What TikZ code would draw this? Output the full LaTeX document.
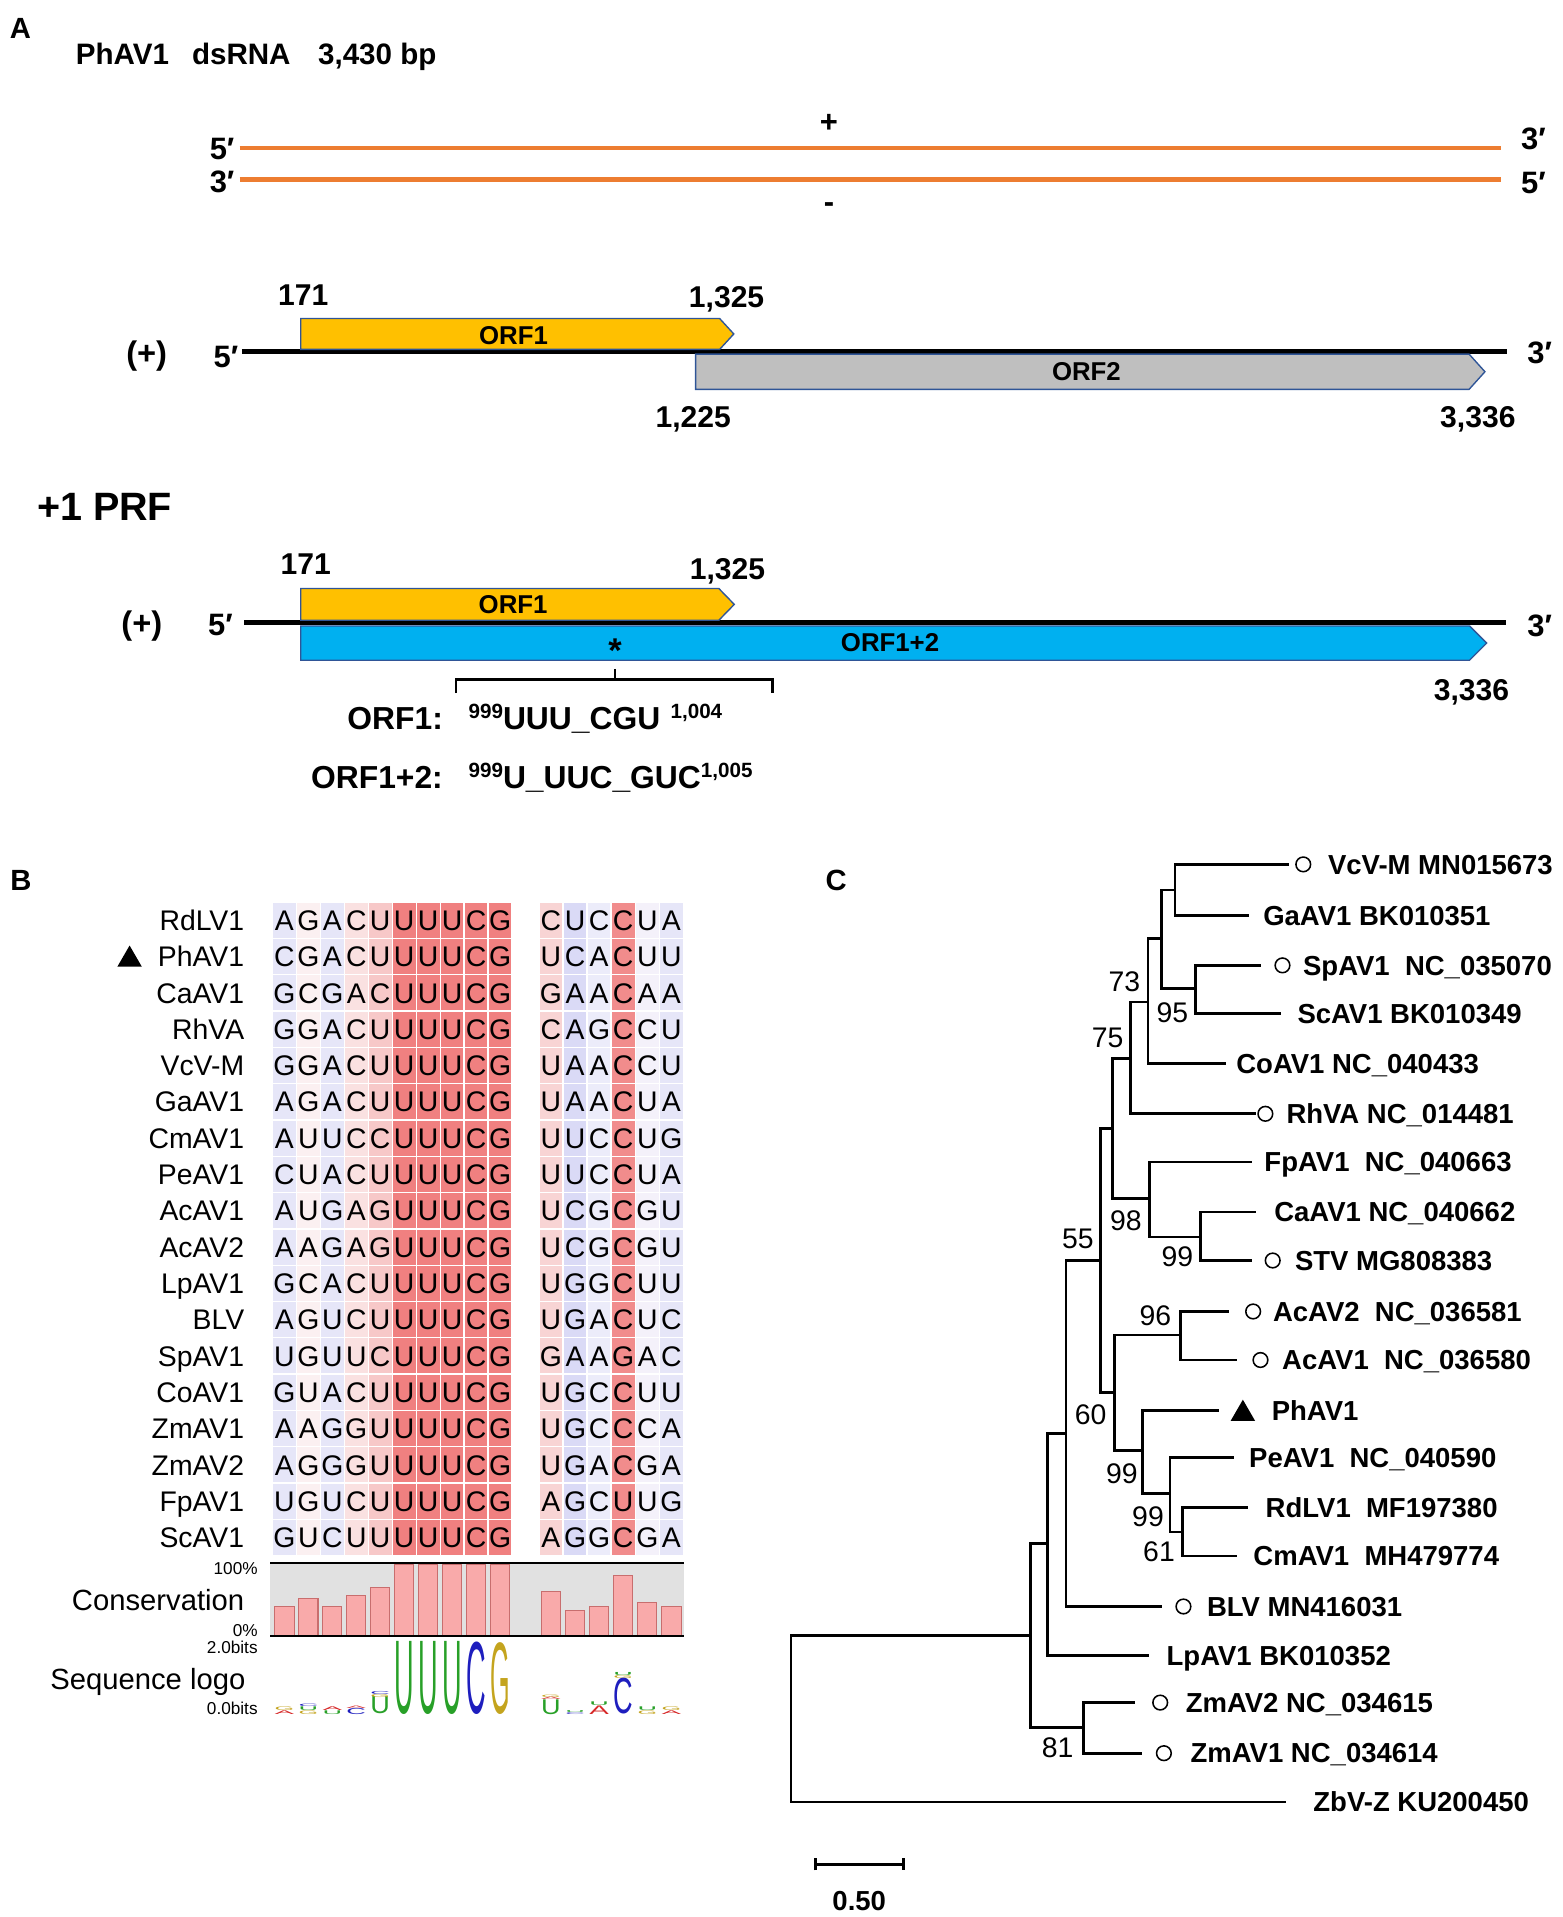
\documentclass[tikz,border=0pt]{standalone}
\usepackage{fontspec}
\setmainfont{Liberation Sans}
\usepackage{graphicx}
\usepackage{xstring}
\usetikzlibrary{shapes.geometric,arrows.meta}

\definecolor{strandorange}{RGB}{237,125,49}
\definecolor{orfyellow}{RGB}{255,192,0}
\definecolor{orfgray}{RGB}{191,191,191}
\definecolor{orfblue}{RGB}{0,176,240}
\definecolor{orfedge}{RGB}{47,85,151}
\definecolor{consR}{RGB}{240,128,128}
\definecolor{consR2}{RGB}{241,140,140}
\definecolor{consP}{RGB}{247,200,200}
\definecolor{consP2}{RGB}{248,212,212}
\definecolor{consP1}{RGB}{250,225,225}
\definecolor{consW}{RGB}{251,240,241}
\definecolor{consW2}{RGB}{244,241,250}
\definecolor{consB}{RGB}{230,230,248}
\definecolor{consB1}{RGB}{236,236,250}
\definecolor{consB2}{RGB}{218,218,246}
\definecolor{consbg}{RGB}{225,225,225}
\definecolor{barfill}{RGB}{249,170,170}
\definecolor{baredge}{RGB}{200,110,110}
\definecolor{logoA}{RGB}{214,40,40}
\definecolor{logoC}{RGB}{30,30,190}
\definecolor{logoG}{RGB}{196,164,30}
\definecolor{logoU}{RGB}{40,160,40}

\newcommand\fs[1]{\fontsize{#1}{#1}\selectfont}
\newcommand\supnum[1]{{\fs{12}\raisebox{6.5pt}{#1}}}
\newcommand\colx[1]{(#1<11 ? 232.6+19.6*(#1-1) : 450.65+19.7*(#1-11))}
\newcommand\orfbox[6]{%
  \filldraw [orf, fill=#6] (#1,#4) -- (#2,#4) -- (#3,{(#4+#5)/2}) -- (#2,#5) -- (#1,#5) -- cycle;}

\tikzset{%
  txt/.style={inner sep=0},
  panel/.style={txt, font=\fs{17}\bfseries, anchor=base},
  title/.style={txt, font=\fs{17.2}\bfseries, anchor=base west},
  strand end/.style={txt, font=\fs{18}\bfseries},
  numlbl/.style={txt, font=\fs{17.5}\bfseries, anchor=base},
  orf label/.style={txt, font=\fs{15}\bfseries, anchor=base},
  frame seq/.style={txt, font=\fs{18.5}\bfseries},
  strand/.style={line width=2.5pt, draw=strandorange},
  genome/.style={line width=2.9pt},
  orf/.style={draw=orfedge, line width=0.8pt},
  seq name/.style={txt, font=\fs{16.5}, anchor=base east},
  nt/.style={txt, font=\fs{16.5}, anchor=base},
  axis label/.style={txt, font=\fs{10}, anchor=base east},
  track/.style={txt, font=\fs{17}, anchor=base east},
  bar/.style={fill=barfill, draw=baredge, line width=0.6pt},
  taxon/.style={txt, font=\fs{16}\bfseries, anchor=base west},
  boot/.style={txt, font=\fs{16.5}, anchor=base},
  branch/.style={line width=1.6pt, line cap=rect},
  open mark/.style={circle, draw, line width=0.9pt, minimum size=0.3cm, inner sep=0},
  tri mark/.style={regular polygon, regular polygon sides=3, fill=black, minimum size=0.577cm, inner sep=0},
}

\begin{document}
\begin{tikzpicture}[x=0.025cm, y=-0.025cm, line join=miter]
  \useasboundingbox (0,0) rectangle (1278,1568);

  % panel A: dsRNA
  \node [panel] (lbl-A) at (16.7,31.6) {A};
  \node [title] (title) at (61.8,53.1) {PhAV1\hspace{13.4pt}dsRNA\hspace{16pt}3,430 bp};

  \coordinate (plus-l) at (196,120.8);
  \coordinate (plus-r) at (1228,120.8);
  \coordinate (minus-l) at (196,146.7);
  \coordinate (minus-r) at (1228,146.7);
  \draw [strand] (plus-l) -- (plus-r);
  \draw [strand] (minus-l) -- (minus-r);
  \node [strand end, anchor=base east] (end-p5) at (192,130.4) {5′};
  \node [strand end, anchor=base east] (end-m3) at (192,157.6) {3′};
  \node [strand end, anchor=base west] (end-p3) at (1244,122) {3′};
  \node [strand end, anchor=base west] (end-m5) at (1244,158) {5′};
  \node [txt, font=\fs{18}\bfseries] (sign-p) at (678,101) {+};
  \node [txt, font=\fs{18}\bfseries] (sign-m) at (678,170) {-};

  % ORF map
  \coordinate (gen1-l) at (197.8,287.5);
  \coordinate (gen1-r) at (1232.5,287.5);
  \draw [genome] (gen1-l) -- (gen1-r);
  \orfbox{246}{588.6}{600.2}{260.5}{285.8}{orfyellow}
  \orfbox{569}{1201.6}{1214.6}{289.6}{318.5}{orfgray}
  \node [orf label] (orf1-a) at (420,281.5) {ORF1};
  \node [orf label] (orf2-a) at (888.6,311.5) {ORF2};
  \node [numlbl] (pos-171a) at (248,250.2) {171};
  \node [numlbl] (pos-1325a) at (594.3,251.5) {1,325};
  \node [numlbl] (pos-1225) at (567,349.8) {1,225};
  \node [numlbl] (pos-3336a) at (1208.8,349.8) {3,336};
  \node [txt, font=\fs{19}\bfseries, anchor=base] (sense-a) at (120,298) {(+)};
  \node [strand end, anchor=base west] (end-a5) at (174.5,300.8) {5′};
  \node [strand end, anchor=base west] (end-a3) at (1249,297) {3′};

  % +1 PRF
  \node [txt, font=\fs{23}\bfseries, anchor=base west] (prf) at (30,425.6) {+1 PRF};
  \coordinate (gen2-l) at (199.7,509.2);
  \coordinate (gen2-r) at (1232,509.2);
  \draw [genome] (gen2-l) -- (gen2-r);
  \orfbox{246}{588}{600.6}{481.4}{507.3}{orfyellow}
  \orfbox{246}{1202}{1216}{512}{540}{orfblue}
  \node [orf label] (orf1-b) at (419.7,501.7) {ORF1};
  \node [orf label] (orf12-b) at (728,533.2) {ORF1+2};
  \node [txt, font=\fs{20}\bfseries, anchor=base] (shift) at (503,542) {*};
  \node [numlbl] (pos-171b) at (250,469.8) {171};
  \node [numlbl] (pos-1325b) at (595,473.8) {1,325};
  \node [numlbl] (pos-3336b) at (1203.6,572.8) {3,336};
  \node [txt, font=\fs{19}\bfseries, anchor=base] (sense-b) at (116,519) {(+)};
  \node [strand end, anchor=base west] (end-b5) at (170,519.5) {5′};
  \node [strand end, anchor=base west] (end-b3) at (1249,520.5) {3′};

  \coordinate (brk-l) at (373,567);
  \coordinate (brk-r) at (632,567);
  \coordinate (brk-t) at (503,547);
  \draw [line width=1.5pt] (brk-l) -- ++(0,-11) -| (brk-r);
  \draw [line width=1pt] (brk-t) -- ++(0,9);

  \node [frame seq, anchor=base east] (frame1) at (362.5,596.5) {ORF1:};
  \node [frame seq, anchor=base west] (codon1) at (383,596.5)
    {\supnum{999}UUU\_CGU\hspace{6pt}\supnum{1,004}};
  \node [frame seq, anchor=base east] (frame12) at (362.5,645) {ORF1+2:};
  \node [frame seq, anchor=base west] (codon12) at (383,645)
    {\supnum{999}U\_UUC\_GUC\supnum{1,005}};

  % panel B: alignment
  \node [panel] (lbl-B) at (17.2,728.6) {B};

  \foreach \c/\col in {1/consB,2/consW,3/consB,4/consP1,5/consP,6/consR,7/consR,8/consR,
                       9/consR,10/consR,11/consP2,12/consB2,13/consB1,14/consR2,15/consW2,16/consB}{
    \pgfmathsetmacro\cx{\colx{\c}}
    \foreach \r in {1,...,18}{
      \pgfmathsetmacro\ry{752.7+29.7*(\r-1)}
      \fill [\col] (\cx-9.3,\ry-14.3) rectangle (\cx+9.3,\ry+14.3);
    }
  }

  \foreach \tax/\sq [count=\r] in {RdLV1/AGACUUUUCGCUCCUA, PhAV1/CGACUUUUCGUCACUU,
      CaAV1/GCGACUUUCGGAACAA, RhVA/GGACUUUUCGCAGCCU, VcV-M/GGACUUUUCGUAACCU,
      GaAV1/AGACUUUUCGUAACUA, CmAV1/AUUCCUUUCGUUCCUG, PeAV1/CUACUUUUCGUUCCUA,
      AcAV1/AUGAGUUUCGUCGCGU, AcAV2/AAGAGUUUCGUCGCGU, LpAV1/GCACUUUUCGUGGCUU,
      BLV/AGUCUUUUCGUGACUC, SpAV1/UGUUCUUUCGGAAGAC, CoAV1/GUACUUUUCGUGCCUU,
      ZmAV1/AAGGUUUUCGUGCCCA, ZmAV2/AGGGUUUUCGUGACGA, FpAV1/UGUCUUUUCGAGCUUG,
      ScAV1/GUCUUUUUCGAGGCGA}{
    \pgfmathsetmacro\ry{752.7+29.7*(\r-1)}
    \node [seq name] (name-\r) at (200,\ry+8.3) {\tax};
    \foreach \c in {1,...,16}{
      \pgfmathsetmacro\cx{\colx{\c}}
      \StrChar{\sq}{\c}[\ch]
      \node [nt] (seq-\r-\c) at (\cx,\ry+8.3) {\ch};
    }
  }
  \node [tri mark] (mark-B) at (106,784.9) {};

  % conservation
  \fill [consbg] (221,1278.3) rectangle (559.5,1338.3);
  \foreach \c/\h in {1/0.41,2/0.52,3/0.41,4/0.57,5/0.68,6/1,7/1,8/1,9/1,10/1,
                     11/0.62,12/0.36,13/0.41,14/0.84,15/0.47,16/0.41}{
    \pgfmathsetmacro\cx{\colx{\c}}
    \filldraw [bar] (\cx-7.9,1338.3) rectangle (\cx+7.9,1338.3-59*\h);
  }
  \draw [line width=1.5pt] (221,1278.3) -- (559.5,1278.3);
  \draw [line width=1.5pt] (221,1338.3) -- (559.5,1338.3);
  \node [axis label] (ax-100) at (211,1288) {100\%};
  \node [axis label] (ax-0) at (211,1338.6) {0\%};
  \node [track] (track-cons) at (200,1317.5) {Conservation};

  % sequence logo
  \node [axis label] (ax-2bits) at (211,1352.3) {2.0bits};
  \node [axis label] (ax-0bits) at (211,1402.7) {0.0bits};
  \node [track] (track-logo) at (201,1381.7) {Sequence logo};
  \foreach \c/\l/\b/\h [count=\i] in {1/A/0/3, 1/G/3/3, 2/G/0/3, 2/U/3/3, 2/C/6/2,
      3/U/0/3, 3/A/3/3, 4/C/0/5, 4/A/5/2, 5/U/0/14, 5/G/14/2.5, 5/C/16.5/2.5,
      6/U/0/59, 7/U/0/59, 8/U/0/59, 9/C/0/58.5, 10/G/0/58,
      11/U/0/12, 11/A/12/2, 11/G/14/2, 12/C/0/1.5, 12/U/1.5/1.5, 13/A/0/7, 13/U/7/3,
      14/C/0/29, 14/G/29/2.5, 14/U/31.5/2.5, 15/G/0/3, 15/U/3/3, 16/A/0/3, 16/G/3/3}{
    \pgfmathsetmacro\cx{\colx{\c}}
    \pgfmathsetmacro\lh{\h*0.025}
    \node [txt, anchor=south, text=logo\l] (logo-\i) at (\cx,1402.4-\b)
      {\resizebox{0.4cm}{\lh cm}{\l}};
  }

  % panel C: tree
  \node [panel] (lbl-C) at (684,728.1) {C};

  \foreach \n/\x/\y in {root/647/1338, a/843/1338, b/857/1262.6, c/872/1172.6,
      d/900/1031, e/910/923, f/924.6/866, g/939/819.6, h/950/767.7, i/961/728,
      j/977.7/808.7, k/940/980.5, l/982/1011.8, m/911.5/1139, n/965.4/1092,
      o/934.8/1186.5, p/957/1221.8, q/967.5/1253, zm/886/1413}
    \coordinate (clade-\n) at (\x,\y);

  \foreach \n/\x/\y/\tx/\txt in {
      vcvm/1053/707/1086/{VcV-M MN015673},
      gaav1/1020.7/748.6/1033/{GaAV1 BK010351},
      spav1/1030/789.6/1065.6/{SpAV1\ \ NC\_035070},
      scav1/1047/829/1061/{ScAV1 BK010349},
      coav1/1001.5/870/1011/{CoAV1 NC\_040433},
      rhva/1026/911/1052/{RhVA NC\_014481},
      fpav1/1022.7/950.5/1034/{FpAV1\ \ NC\_040663},
      caav1/1026/991.4/1042/{CaAV1 NC\_040662},
      stv/1022.7/1031/1059/{STV MG808383},
      acav2/1004/1072.7/1041/{AcAV2\ \ NC\_036581},
      acav1/1011/1112.4/1048.5/{AcAV1\ \ NC\_036580},
      phav1/996/1153.5/1040/{PhAV1},
      peav1/1008.4/1192/1021.5/{PeAV1\ \ NC\_040590},
      rdlv1/1019.5/1233/1035/{RdLV1\ \ MF197380},
      cmav1/1011/1272.8/1025/{CmAV1\ \ MH479774},
      blv/949/1314/987/{BLV MN416031},
      lpav1/939/1354/954/{LpAV1 BK010352},
      zmav2/927/1392.6/969.6/{ZmAV2 NC\_034615},
      zmav1/933/1434/973.6/{ZmAV1 NC\_034614},
      zbvz/1051/1474/1074/{ZbV-Z KU200450}}{
    \coordinate (leaf-\n) at (\x,\y);
    \node [taxon] (taxon-\n) at (\tx,\y+8) {\txt};
  }

  \foreach \a/\b in {clade-root/clade-a, clade-root/leaf-zbvz, clade-a/clade-b, clade-a/clade-zm,
      clade-b/clade-c, clade-b/leaf-lpav1, clade-c/clade-d, clade-c/leaf-blv,
      clade-d/clade-e, clade-d/clade-m, clade-e/clade-f, clade-e/clade-k,
      clade-f/clade-g, clade-f/leaf-rhva, clade-g/clade-h, clade-g/leaf-coav1,
      clade-h/clade-i, clade-h/clade-j, clade-i/leaf-vcvm, clade-i/leaf-gaav1,
      clade-j/leaf-spav1, clade-j/leaf-scav1, clade-k/leaf-fpav1, clade-k/clade-l,
      clade-l/leaf-caav1, clade-l/leaf-stv, clade-m/clade-n, clade-m/clade-o,
      clade-n/leaf-acav2, clade-n/leaf-acav1, clade-o/leaf-phav1, clade-o/clade-p,
      clade-p/leaf-peav1, clade-p/clade-q, clade-q/leaf-rdlv1, clade-q/leaf-cmav1,
      clade-zm/leaf-zmav2, clade-zm/leaf-zmav1}
    \draw [branch] (\a) |- (\b);

  % markers
  \foreach \x/\y [count=\i] in {1066/707, 1049/789.6, 1035/911, 1041/1031, 1025/1072.7,
      1031/1112.4, 968/1314, 949/1392.6, 952/1434}
    \node [open mark] (mark-\i) at (\x,\y) {};
  \node [tri mark] (mark-C) at (1016.6,1156.4) {};

  % bootstrap values
  \foreach \v/\x/\y [count=\i] in {73/919.6/803, 95/959/827.7, 75/906/848.7, 98/921/998,
      99/963/1028, 55/881.6/1013, 96/945/1076, 60/892/1156.7, 99/917.6/1204.8,
      99/939/1240, 61/948/1269, 81/865/1429}
    \node [boot] (boot-\i) at (\x,\y+8.3) {\v};

  % scale
  \coordinate (scale-l) at (666,1525);
  \coordinate (scale-r) at (740,1525);
  \draw [line width=1.6pt, {Bar[width=7pt]}-{Bar[width=7pt]}] (scale-l) -- (scale-r);
  \node [txt, font=\fs{16}\bfseries, anchor=base] (scale-lbl) at (702.8,1562.6) {0.50};

\end{tikzpicture}
\end{document}
